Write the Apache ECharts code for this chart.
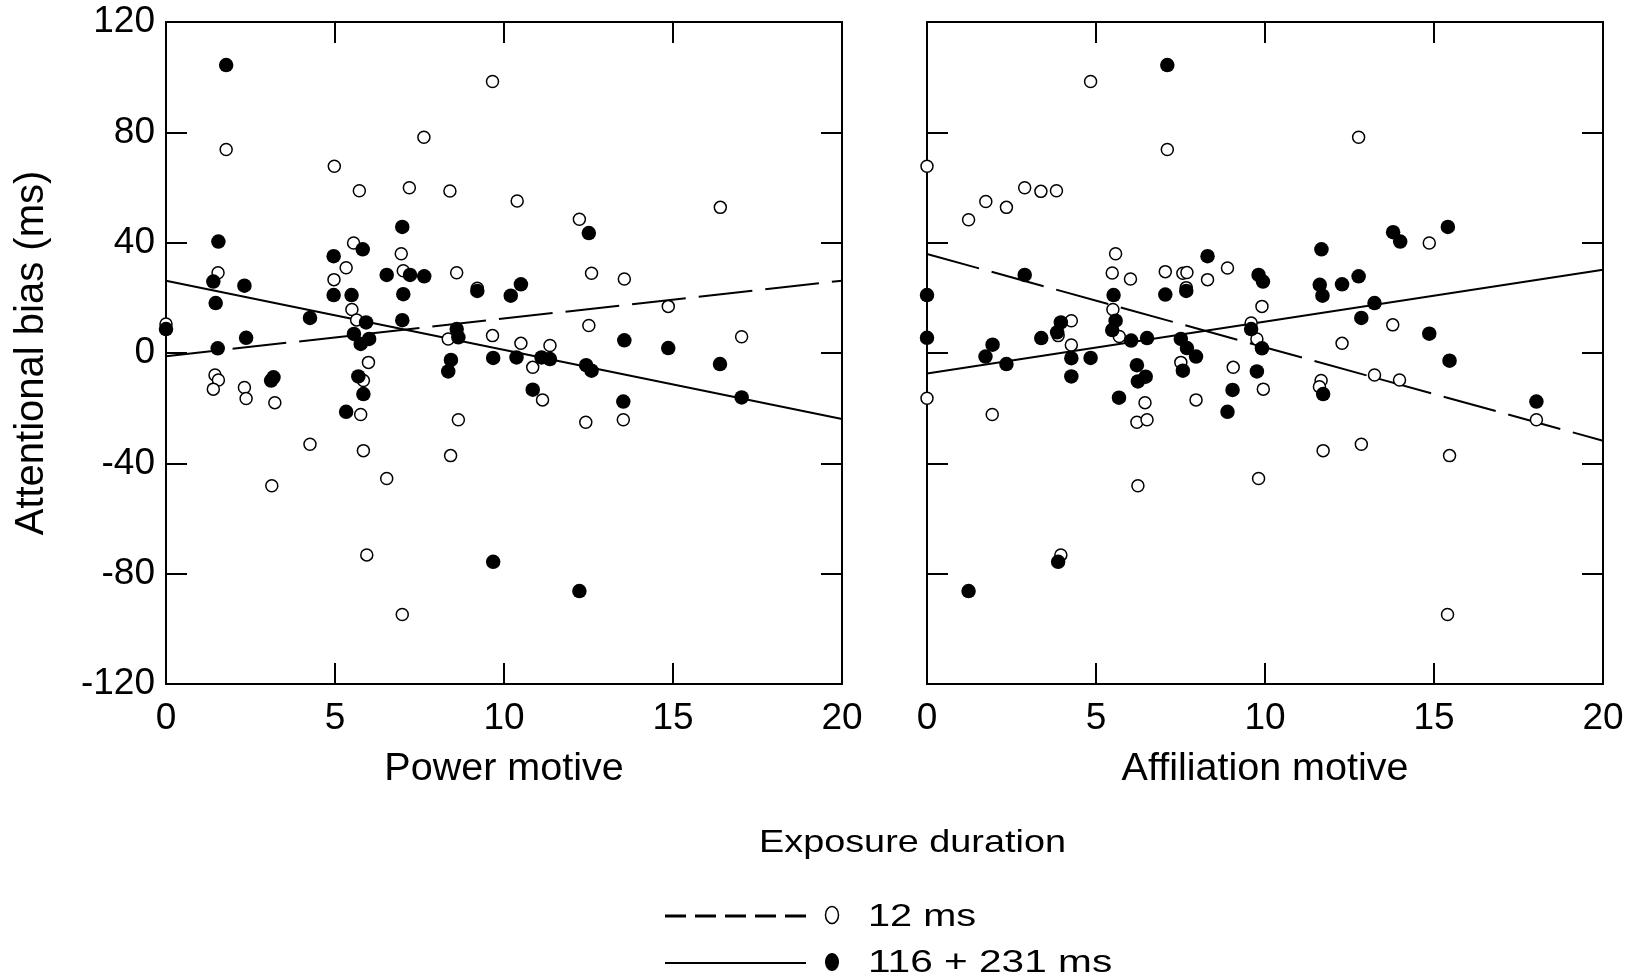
<!DOCTYPE html>
<html>
<head>
<meta charset="utf-8">
<script src="https://cdn.jsdelivr.net/npm/echarts@6/dist/echarts.min.js"></script>
<style>
html,body{margin:0;padding:0;background:#fff;}
#chart{width:1632px;height:980px;}
</style>
</head>
<body>
<div id="chart"></div>
<script>
// ---- data ----
const xTicks = [0, 5, 10, 15, 20];
const yTicks = [-120, -80, -40, 0, 40, 80, 120];
const panelTitles = ['Power motive', 'Affiliation motive'];
const yTitle = 'Attentional bias (ms)';
const legendTitle = 'Exposure duration';
const seriesNames = ['12 ms', '116 + 231 ms'];

// Power motive, 12 ms (open circles)
const power12 = [
[9.66,98.4],[1.78,73.8],[7.63,78.2],[4.98,67.7],[5.72,58.8],[7.20,59.9],[8.40,58.7],[10.39,55.1],
[12.23,48.5],[16.40,52.8],[5.55,39.9],[6.96,36.0],[5.33,30.9],[7.02,29.8],[8.60,29.1],[1.54,29.1],
[4.97,26.6],[12.59,28.9],[13.56,26.8],[9.21,23.5],[14.86,16.9],[5.50,15.8],[5.64,12.0],[0,10.5],
[12.51,10.0],[8.35,5.1],[9.66,6.3],[17.03,5.9],[10.50,3.5],[11.36,2.7],[5.99,-3.4],[10.85,-5.2],
[1.45,-8.0],[1.55,-9.8],[1.40,-13.1],[2.32,-12.5],[2.37,-16.5],[3.22,-18.0],[5.84,-10.0],[11.14,-17.0],
[5.76,-22.3],[8.65,-24.2],[12.42,-25.1],[13.53,-24.2],[4.26,-33.1],[5.84,-35.4],[8.42,-37.2],[3.13,-48.1],
[6.53,-45.5],[5.94,-73.2],[6.99,-94.8]
];
// Power motive, 116 + 231 ms (filled circles)
const powerLong = [
[1.78,104.4],[1.55,40.4],[1.40,25.9],[2.32,24.4],[1.47,18.1],[0,8.7],[4.26,12.7],[2.37,5.5],
[1.53,1.7],[4.96,35.1],[5.82,37.6],[6.99,45.7],[4.96,21.0],[5.49,21.0],[6.53,28.3],[7.02,21.3],
[7.22,28.3],[7.64,27.8],[9.21,22.5],[10.20,20.8],[10.50,24.9],[6.99,11.9],[5.92,11.1],[5.56,6.9],
[5.76,3.3],[6.01,5.1],[8.60,8.7],[8.65,5.7],[9.68,-1.8],[8.43,-2.5],[12.51,43.5],[13.56,4.6],
[14.86,1.8],[16.39,-4.0],[10.37,-1.6],[11.11,-1.6],[11.36,-2.2],[12.43,-4.4],[12.59,-6.4],[10.85,-13.3],
[13.53,-17.6],[17.03,-16.1],[9.68,-75.7],[12.23,-86.3],[5.69,-8.5],[5.84,-14.9],[5.33,-21.3],[3.18,-8.8],
[3.11,-10.0],[8.35,-6.7]
];
// Affiliation motive, 12 ms (open circles)
const affil12 = [
[4.84,98.4],[7.11,73.8],[0,67.7],[1.23,48.3],[1.74,54.9],[2.35,52.8],[2.89,59.9],[3.37,58.6],
[3.83,58.8],[5.58,36.0],[5.48,29.0],[6.02,26.8],[7.05,29.5],[7.57,28.9],[7.69,29.2],[7.67,23.7],
[8.30,26.6],[8.89,30.8],[9.91,16.9],[5.50,15.8],[4.27,11.7],[3.88,6.3],[5.69,6.0],[4.27,2.9],
[9.59,10.9],[9.76,5.1],[7.51,-3.4],[12.77,78.2],[14.86,39.9],[13.78,10.2],[12.28,3.5],[9.06,-5.2],
[9.95,-13.1],[0,-16.4],[1.93,-22.3],[6.45,-18.0],[6.21,-25.1],[6.51,-24.2],[7.96,-17.0],[6.24,-48.1],
[9.81,-45.5],[3.96,-73.2],[11.66,-10.0],[11.61,-12.2],[13.24,-8.0],[13.98,-9.8],[18.03,-24.2],[11.72,-35.4],
[12.85,-33.1],[15.46,-37.2],[15.40,-94.8]
];
// Affiliation motive, 116 + 231 ms (filled circles)
const affilLong = [
[7.11,104.4],[2.89,28.3],[8.30,35.1],[9.81,28.3],[9.94,25.9],[0,21.0],[0,5.5],[5.52,21.0],
[7.05,21.2],[7.67,22.5],[5.58,11.7],[5.48,8.3],[3.96,11.1],[3.85,7.5],[3.38,5.4],[1.94,3.0],
[6.04,4.5],[6.51,5.4],[7.51,5.1],[7.69,1.8],[7.96,-1.3],[9.59,8.7],[9.91,1.7],[1.73,-1.3],
[2.35,-4.0],[4.27,-1.9],[4.84,-1.8],[6.21,-4.4],[4.27,-8.5],[6.47,-8.6],[6.24,-10.3],[5.68,-16.2],
[7.57,-6.4],[9.76,-6.7],[9.04,-13.4],[8.89,-21.3],[3.88,-75.7],[1.23,-86.3],[15.41,45.7],[13.79,43.8],
[14.00,40.4],[11.67,37.6],[11.62,24.7],[11.70,20.8],[12.28,24.9],[12.77,27.8],[13.24,18.1],[12.85,12.7],
[14.86,7.0],[15.46,-2.8],[11.72,-14.9],[18.03,-17.6]
];
// Regression lines (end points)
const powerFit12 = [[0,-1.2],[20,26.2]];
const powerFitLong = [[0,26.2],[20,-23.9]];
const affilFit12 = [[0,35.9],[20,-31.8]];
const affilFitLong = [[0,-7.4],[20,30.2]];

// ---- chart ----
const FONT = 'Liberation Sans, Arial, Helvetica, sans-serif';
const chart = echarts.init(document.getElementById('chart'), null, {renderer: 'canvas'});

const lineStyleAxis = {color: '#000', width: 2};
function xAx(grid, pos, withLabels) {
  return {
    type: 'value', gridIndex: grid, position: pos,
    min: xTicks[0], max: xTicks[xTicks.length - 1], interval: xTicks[1] - xTicks[0],
    splitLine: {show: false},
    axisLine: {show: true, onZero: false, lineStyle: lineStyleAxis},
    axisTick: {show: true, inside: true, length: 21, lineStyle: lineStyleAxis},
    axisLabel: {show: withLabels, color: '#000', fontSize: 37, fontFamily: FONT, margin: 16},
    name: withLabels ? panelTitles[grid] : '',
    nameLocation: 'middle', nameGap: 65,
    nameTextStyle: {color: '#000', fontSize: 39.5, fontFamily: FONT}
  };
}
function yAx(grid, pos, withLabels, withName) {
  return {
    type: 'value', gridIndex: grid, position: pos,
    min: yTicks[0], max: yTicks[yTicks.length - 1], interval: yTicks[1] - yTicks[0],
    splitLine: {show: false},
    axisLine: {show: true, onZero: false, lineStyle: lineStyleAxis},
    axisTick: {show: true, inside: true, length: 21, lineStyle: lineStyleAxis},
    axisLabel: {show: withLabels, color: '#000', fontSize: 37, fontFamily: FONT, margin: 11},
    name: withName ? yTitle : '',
    nameLocation: 'middle', nameGap: 114,
    nameTextStyle: {color: '#000', fontSize: 40, fontFamily: FONT}
  };
}

function openSeries(data, xi) {
  return {type: 'scatter', name: seriesNames[0], xAxisIndex: xi, yAxisIndex: xi, data: data,
    symbol: 'circle', symbolSize: 12, z: 3,
    itemStyle: {color: '#fff', borderColor: '#000', borderWidth: 1.5, opacity: 1}};
}
function fillSeries(data, xi) {
  return {type: 'scatter', name: seriesNames[1], xAxisIndex: xi, yAxisIndex: xi, data: data,
    symbol: 'circle', symbolSize: 14.5, z: 4,
    itemStyle: {color: '#000', borderWidth: 0, opacity: 1}};
}
function fitSeries(data, xi, dashed) {
  return {type: 'line', xAxisIndex: xi, yAxisIndex: xi, data: data, showSymbol: false, symbol: 'none', z: 2,
    lineStyle: {color: '#000', width: 2, type: dashed ? [54, 13] : 'solid'}};
}

const option = {
  animation: false,
  backgroundColor: '#fff',
  grid: [
    {left: 166, top: 22, width: 676, height: 662},
    {left: 927, top: 22, width: 676, height: 662}
  ],
  xAxis: [xAx(0, 'bottom', true), xAx(0, 'top', false), xAx(1, 'bottom', true), xAx(1, 'top', false)],
  yAxis: [yAx(0, 'left', true, true), yAx(0, 'right', false, false), yAx(1, 'left', false, false), yAx(1, 'right', false, false)],
  series: [
    fitSeries(powerFit12, 0, true),
    fitSeries(powerFitLong, 0, false),
    openSeries(power12, 0),
    fillSeries(powerLong, 0),
    fitSeries(affilFit12, 2, true),
    fitSeries(affilFitLong, 2, false),
    openSeries(affil12, 2),
    fillSeries(affilLong, 2)
  ],
  graphic: [
    {type: 'text', x: 759, y: 844, scaleX: 1.24,
      style: {text: legendTitle, font: '30.5px ' + FONT, fill: '#000', textAlign: 'left', align: 'left', textVerticalAlign: 'middle', verticalAlign: 'middle'}},
    {type: 'line', shape: {x1: 665, y1: 916, x2: 806, y2: 916},
      style: {stroke: '#000', lineWidth: 3, lineDash: [21, 9]}},
    {type: 'ellipse', shape: {cx: 832, cy: 915, rx: 6.5, ry: 8.5},
      style: {fill: '#fff', stroke: '#000', lineWidth: 1.5}},
    {type: 'text', x: 868, y: 917, scaleX: 1.28,
      style: {text: seriesNames[0], font: '31px ' + FONT, fill: '#000', textAlign: 'left', align: 'left', textVerticalAlign: 'middle', verticalAlign: 'middle'}},
    {type: 'line', shape: {x1: 665, y1: 963, x2: 806, y2: 963},
      style: {stroke: '#000', lineWidth: 2}},
    {type: 'ellipse', shape: {cx: 832, cy: 962, rx: 7, ry: 9},
      style: {fill: '#000'}},
    {type: 'text', x: 868, y: 963, scaleX: 1.31,
      style: {text: seriesNames[1], font: '31px ' + FONT, fill: '#000', textAlign: 'left', align: 'left', textVerticalAlign: 'middle', verticalAlign: 'middle'}}
  ]
};
chart.setOption(option);
</script>
</body>
</html>
